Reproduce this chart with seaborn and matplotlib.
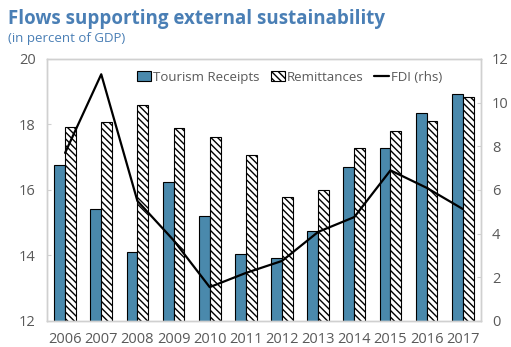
import matplotlib
matplotlib.use("Agg")
import matplotlib.pyplot as plt
import seaborn as sns
import pandas as pd
import numpy as np
from matplotlib.patches import Patch
from matplotlib.lines import Line2D

years = ["2006", "2007", "2008", "2009", "2010", "2011",
         "2012", "2013", "2014", "2015", "2016", "2017"]
tourism = [16.76, 15.42, 14.11, 16.24, 15.21, 14.05,
           13.92, 14.75, 16.70, 17.28, 18.35, 18.93]
remittances = [17.92, 18.08, 18.60, 17.90, 17.63, 17.07,
               15.79, 16.00, 17.28, 17.80, 18.10, 18.84]
fdi = [7.7, 11.3, 5.5, 3.7, 1.55, 2.2, 2.75, 4.08, 4.76, 6.9, 6.1, 5.13]

series_names = ["Tourism Receipts", "Remittances"]

df = pd.DataFrame({
    "year": years * 2,
    "series": [series_names[0]] * len(years) + [series_names[1]] * len(years),
    "value": tourism + remittances,
})

sns.set_style("white")
plt.rcParams["font.family"] = ["Open Sans", "DejaVu Sans"]
plt.rcParams["hatch.linewidth"] = 1.0

blue = "#4A89AC"
text_gray = "#595959"
frame_gray = "#D0D0D0"

fig = plt.figure(figsize=(5.11, 3.47), dpi=100)
ax = fig.add_axes([0.092, 0.075, 0.849, 0.755])

sns.barplot(data=df, x="year", y="value", hue="series", order=years,
            hue_order=series_names, palette=[blue, "white"],
            width=0.6, gap=0.0, ax=ax, legend=False, saturation=1)

n = len(years)
for i, bar in enumerate(ax.patches[:2 * n]):
    bar.set_edgecolor("black")
    bar.set_linewidth(0.8)
    if i >= n:
        bar.set_hatch("\\\\\\\\\\")

ax.set_ylim(12, 20)
ax.set_yticks([12, 14, 16, 18, 20])
ax.set_xlim(-0.5, n - 0.5)
ax.set_xlabel("")
ax.set_ylabel("")

ax2 = ax.twinx()
ax2.plot(np.arange(n), fdi, color="black", lw=1.6)
ax2.set_ylim(0, 12)
ax2.set_yticks([0, 2, 4, 6, 8, 10, 12])

for a in (ax, ax2):
    for s in a.spines.values():
        s.set_color(frame_gray)
        s.set_linewidth(1.0)
    a.tick_params(axis="both", colors=text_gray, labelsize=10.5,
                  direction="in", length=3, width=0.8)
    a.tick_params(axis="y", colors=frame_gray, labelcolor=text_gray)
ax.tick_params(axis="x", length=0, pad=8)
ax.tick_params(axis="y", pad=8)
ax2.tick_params(axis="y", pad=8)
ax.set_xticks(np.arange(n) + 0.5, minor=True)
ax.tick_params(axis="x", which="minor", length=4, color=frame_gray, direction="in")

handles = [
    Patch(facecolor=blue, edgecolor="black", linewidth=0.8, label=series_names[0]),
    Patch(facecolor="white", edgecolor="black", linewidth=0.8, hatch="\\\\\\\\\\",
          label=series_names[1]),
    Line2D([0], [0], color="black", lw=1.6, label="FDI (rhs)"),
]
leg = ax2.legend(handles=handles, loc="upper left", bbox_to_anchor=(0.18, 1.0),
                 ncol=3, frameon=False, fontsize=9.5, handlelength=1.1,
                 handleheight=0.8, handletextpad=0.15, columnspacing=0.8)
for t in leg.get_texts():
    t.set_color(text_gray)

title_color = "#4A7FB5"
fig.text(0.016, 0.945, "Flows supporting external sustainability",
         fontsize=13.5, fontweight="bold", color=title_color, va="center")
fig.text(0.016, 0.888, "(in percent of GDP)", fontsize=9.5, color=title_color,
         va="center")

fig.savefig("out.png", dpi=100)
